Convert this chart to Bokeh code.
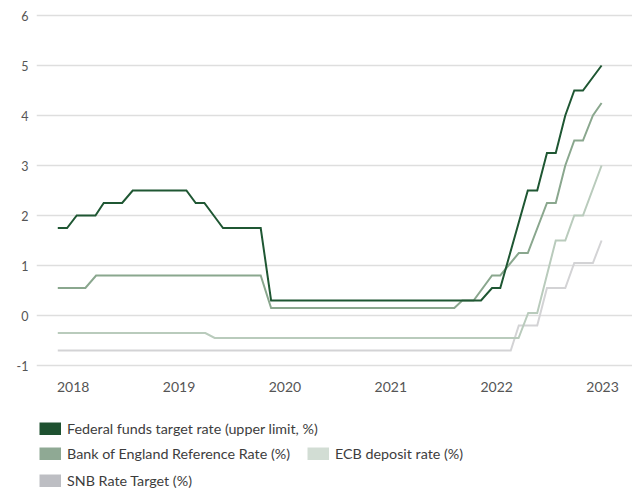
from bokeh.plotting import figure
from bokeh.layouts import column
from bokeh.models import Range1d, FixedTicker, Legend, LegendItem
from bokeh.embed import file_html
from bokeh.resources import INLINE

# ---- data (decimal years, rates in %) ----
fed_x = [2017.854, 2017.942, 2018.033, 2018.210, 2018.288, 2018.462, 2018.562, 2019.069,
         2019.157, 2019.239, 2019.327, 2019.415, 2019.771, 2019.869, 2021.852, 2021.956,
         2022.034, 2022.294, 2022.383, 2022.475, 2022.558, 2022.648, 2022.733, 2022.815, 2022.991]
fed_y = [1.75, 1.75, 2.0, 2.0, 2.25, 2.25, 2.5, 2.5, 2.25, 2.25, 2.0, 1.75, 1.75, 0.3, 0.3, 0.55,
         0.55, 2.5, 2.5, 3.25, 3.25, 4.0, 4.5, 4.5, 5.0]

boe_x = [2017.854, 2018.115, 2018.216, 2019.771, 2019.869, 2021.600, 2021.675, 2021.782,
         2021.956, 2022.034, 2022.209, 2022.294, 2022.475, 2022.558, 2022.648, 2022.733,
         2022.815, 2022.909, 2022.991]
boe_y = [0.55, 0.55, 0.8, 0.8, 0.15, 0.15, 0.3, 0.3, 0.8, 0.8, 1.25, 1.25, 2.25, 2.25, 3.0,
         3.5, 3.5, 4.0, 4.25]

ecb_x = [2017.854, 2019.248, 2019.336, 2022.207, 2022.298, 2022.383, 2022.558, 2022.648,
         2022.733, 2022.815, 2022.991]
ecb_y = [-0.35, -0.35, -0.45, -0.45, 0.05, 0.05, 1.5, 1.5, 2.0, 2.0, 3.0]

snb_x = [2017.854, 2022.133, 2022.209, 2022.383, 2022.475, 2022.648, 2022.733, 2022.909, 2022.991]
snb_y = [-0.7, -0.7, -0.2, -0.2, 0.55, 0.55, 1.05, 1.05, 1.5]

year_ticks = [2018, 2019, 2020, 2021, 2022, 2023]
rate_ticks = [-1, 0, 1, 2, 3, 4, 5, 6]

labels = {
    "fed": "Federal funds target rate (upper limit, %)",
    "boe": "Bank of England Reference Rate (%)",
    "ecb": "ECB deposit rate (%)",
    "snb": "SNB Rate Target (%)",
}
line_colors = {"fed": "#1f5733", "boe": "#8aa78e", "ecb": "#b9cbbc", "snb": "#d3d3d5"}
swatch_colors = {"fed": "#1e5130", "boe": "#8fa994", "ecb": "#d2ddd4", "snb": "#bdbec3"}

FONT = "Lato"

p = figure(width=632, height=400, output_backend="svg", toolbar_location=None,
           x_range=Range1d(2017.653, 2023.283), y_range=Range1d(-1.04, 6.04),
           min_border_left=36, min_border_right=0, min_border_top=13, min_border_bottom=33)
p.outline_line_color = None
p.background_fill_color = "white"
p.border_fill_color = "white"

p.xgrid.grid_line_color = None
p.ygrid.grid_line_color = "#dedede"
p.ygrid.grid_line_width = 1.3
p.ygrid.bounds = (2017.721, 2023.283)

p.xaxis.ticker = FixedTicker(ticks=year_ticks)
p.yaxis.ticker = FixedTicker(ticks=rate_ticks)
p.yaxis.major_label_overrides = {t: str(t) for t in rate_ticks}
for ax in (p.xaxis, p.yaxis):
    ax.axis_line_color = None
    ax.major_tick_line_color = None
    ax.minor_tick_line_color = None
    ax.major_tick_out = 0
    ax.major_tick_in = 0
    ax.major_label_text_font = FONT
    ax.major_label_text_color = "#555555"
p.xaxis.major_label_text_font_size = "14px"
p.xaxis.major_label_standoff = 14
p.yaxis.major_label_text_font_size = "12.5px"
p.yaxis.major_label_standoff = 8

series = {"snb": (snb_x, snb_y), "ecb": (ecb_x, ecb_y), "boe": (boe_x, boe_y), "fed": (fed_x, fed_y)}
for key, (xs, ys) in series.items():
    p.line(xs, ys, line_color=line_colors[key], line_width=2, line_join="miter")

# ---- legend panel (separate figure below the chart) ----
lg = figure(width=632, height=91, output_backend="svg", toolbar_location=None,
            x_axis_location=None, y_axis_location=None,
            min_border=0, min_border_left=0, min_border_right=0,
            min_border_top=0, min_border_bottom=0)
lg.outline_line_color = None
lg.grid.visible = False
swatches = {}
for key, (xs, ys) in series.items():
    # hidden renderers: only their thick-line legend swatch is shown
    swatches[key] = lg.line(xs, ys, line_color=swatch_colors[key], line_width=13, visible=False)


def make_legend(keys, loc):
    leg = Legend(items=[LegendItem(label=labels[k], renderers=[swatches[k]]) for k in keys],
                 location=loc, orientation="horizontal", click_policy="none")
    leg.glyph_width = 22
    leg.glyph_height = 13
    leg.label_standoff = 6
    leg.spacing = 17
    leg.padding = 0
    leg.margin = 0
    leg.label_height = 22
    leg.border_line_color = None
    leg.background_fill_alpha = 0
    leg.label_text_font = FONT
    leg.label_text_font_size = "14.3px"
    leg.label_text_color = "#3d3d3d"
    return leg


lg.add_layout(make_legend(["fed"], (3, 52)))
lg.add_layout(make_legend(["boe", "ecb"], (3, 27)))
lg.add_layout(make_legend(["snb"], (3, 0)))

open("out.html", "w").write(file_html(column(p, lg, spacing=0), INLINE))
